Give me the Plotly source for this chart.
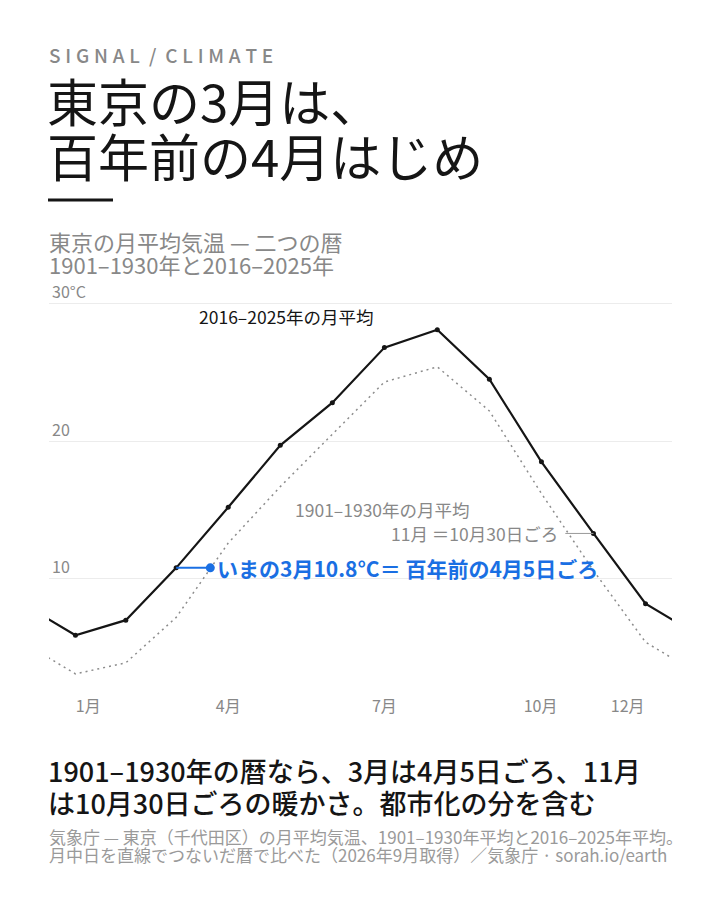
import plotly.graph_objects as go

# ---- data ----
months = ["1月", "2月", "3月", "4月", "5月", "6月", "7月", "8月", "9月", "10月", "11月", "12月"]
mid_days = [15.5, 45, 74.5, 105, 135.5, 166, 196.5, 227.5, 258, 288.5, 319, 349.5]
temp_recent = [5.9, 7.0, 10.8, 15.2, 19.7, 22.8, 26.8, 28.1, 24.5, 18.5, 13.3, 8.2]   # 2016–2025
temp_old = [3.1, 3.9, 7.2, 12.6, 16.7, 20.5, 24.3, 25.4, 22.2, 16.2, 10.6, 5.4]       # 1901–1930
tick_days = [23, 105, 196.5, 288, 339]
tick_text = ["1月", "4月", "7月", "10月", "12月"]
y_ticks = [10, 20, 30]
y_tick_text = ["10", "20", "30°C"]
match_mar_day = 94.5     # 4月5日ごろ on the old calendar
match_nov_day = 302.5    # 10月30日ごろ on the old calendar

# cyclic wrap so the lines run to the year edges
def wrap(vals):
    return [vals[-1]] + list(vals) + [vals[0]]
wrap_days = [mid_days[-1] - 365] + mid_days + [mid_days[0] + 365]

FONT = "Noto Sans CJK JP"
GREY = "#888888"
BLUE = "#1a6fe3"

W, H = 720, 900
L, R, T, B = 49, 48, 275.95, 210.8
PW, PH = W - L - R, H - T - B

def px(x):
    return (x - L) / PW

def py(y):
    return (H - B - y) / PH

fig = go.Figure()

fig.add_trace(go.Scatter(
    x=wrap_days, y=wrap(temp_old), mode="lines",
    line=dict(color="#8c8c8c", width=1.5, dash="2px,4px"),
    hoverinfo="skip", showlegend=False))

fig.add_trace(go.Scatter(
    x=wrap_days, y=wrap(temp_recent), mode="lines+markers",
    line=dict(color="#151515", width=2.2),
    marker=dict(size=5, color="#151515"),
    hoverinfo="skip", showlegend=False))

# blue connector: current March -> same temp on the old calendar
mar = temp_recent[2]
fig.add_trace(go.Scatter(
    x=[mid_days[2], match_mar_day], y=[mar, mar], mode="lines",
    line=dict(color=BLUE, width=2), hoverinfo="skip", showlegend=False))
fig.add_trace(go.Scatter(
    x=[match_mar_day], y=[mar], mode="markers",
    marker=dict(size=9, color=BLUE), hoverinfo="skip", showlegend=False))

# grey leader for November
nov = temp_recent[10]
fig.add_trace(go.Scatter(
    x=[match_nov_day, mid_days[10]], y=[nov, nov], mode="lines",
    line=dict(color="#999999", width=1), hoverinfo="skip", showlegend=False))

annos = []

def txt(text, x, y, size, color, anchor="left", weight=400, yanchor="middle"):
    annos.append(dict(text=text, x=px(x), y=py(y), xref="paper", yref="paper",
                      xanchor=anchor, yanchor=yanchor, showarrow=False,
                      font=dict(family=FONT, size=size, color=color, weight=weight)))

sp = "\u2005"
sig = sp.join(list("SIGNAL")) + sp + " / " + sp + sp.join(list("CLIMATE"))
txt(sig, 47, 54, 19, GREY, weight=500)
txt("東京の3月は、", 45, 100, 51, "#151515", weight=400)
txt("百年前の4月はじめ", 45, 155, 51, "#151515", weight=400)
txt("東京の月平均気温 — 二つの暦", 47, 241, 22, GREY)
txt("1901–1930年と2016–2025年", 47, 264, 22, GREY)

txt("2016–2025年の月平均", 286, 316, 17.5, "#151515", anchor="center")
txt("1901–1930年の月平均", 382, 510, 17.5, GREY, anchor="center")

annos.append(dict(text="11月 ＝10月30日ごろ", x=match_nov_day, y=nov, xref="x", yref="y",
                  xanchor="right", yanchor="middle", xshift=-5, showarrow=False,
                  font=dict(family=FONT, size=17.5, color=GREY)))
annos.append(dict(text="いまの3月10.8°C＝ 百年前の4月5日ごろ", x=match_mar_day, y=mar,
                  xref="x", yref="y", xanchor="left", yanchor="middle", xshift=5,
                  showarrow=False,
                  font=dict(family=FONT, size=21, color=BLUE, weight=700)))

txt("1901–1930年の暦なら、3月は4月5日ごろ、11月", 46, 771, 27, "#151515", weight=500)
txt("は10月30日ごろの暖かさ。都市化の分を含む", 46, 803, 27, "#151515", weight=500)
txt("気象庁 — 東京（千代田区）の月平均気温、1901–1930年平均と2016–2025年平均。", 47, 837, 17, "#9a9a9a")
txt("月中日を直線でつないだ暦で比べた（2026年9月取得）／気象庁 · sorah.io/earth", 47, 855, 17, "#9a9a9a")

fig.update_layout(
    width=W, height=H,
    margin=dict(l=L, r=R, t=T, b=B, pad=0),
    paper_bgcolor="white", plot_bgcolor="white",
    font=dict(family=FONT, color=GREY),
    annotations=annos,
    shapes=[dict(type="line", xref="paper", yref="paper",
                 x0=px(48), x1=px(113), y0=py(200), y1=py(200),
                 line=dict(color="#151515", width=3))],
    xaxis=dict(range=[0, 365], tickvals=tick_days, ticktext=tick_text,
               showgrid=False, zeroline=False, showline=False, ticks="",
               tickfont=dict(size=16, color=GREY), ticklabelstandoff=6,
               fixedrange=True),
    yaxis=dict(range=[2, 32], tickvals=y_ticks, ticktext=y_tick_text,
               showgrid=True, gridcolor="#ececec", gridwidth=1,
               zeroline=False, showline=False, ticks="",
               ticklabelposition="inside top",
               tickfont=dict(size=16, color=GREY), fixedrange=True),
)

fig.write_html("out.html", config={"displayModeBar": False},
               post_script="document.body.style.margin='0';")
